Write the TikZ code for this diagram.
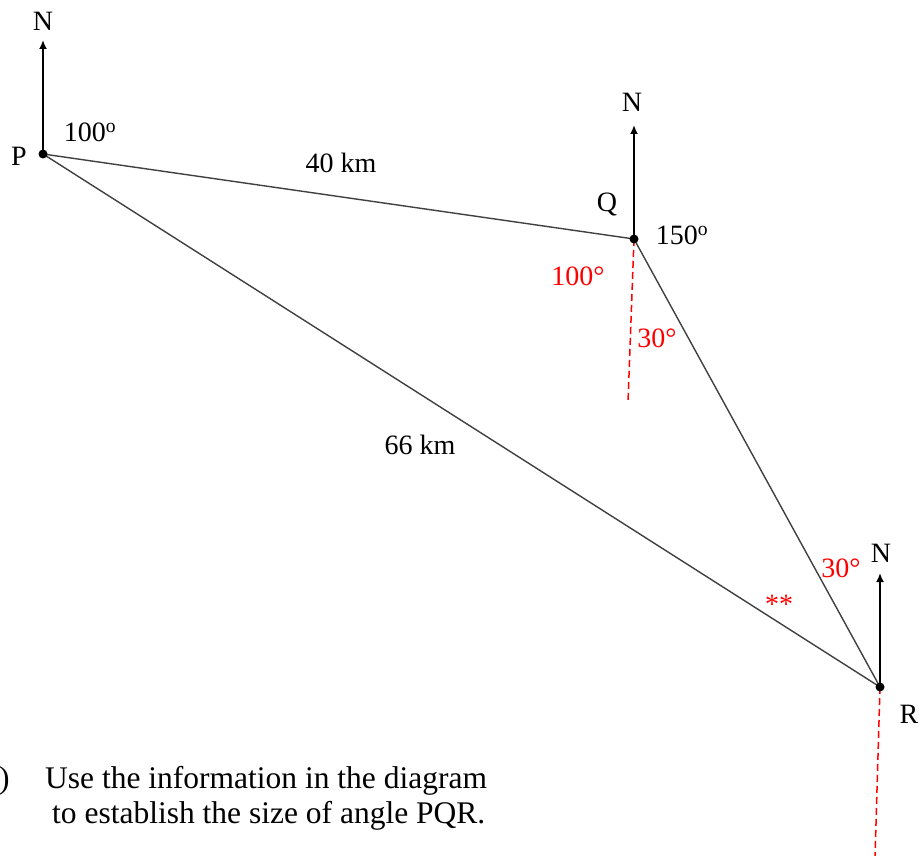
\documentclass[tikz,border=0pt]{standalone}
\usepackage{fontspec}
\setmainfont{Liberation Serif}
\usetikzlibrary{arrows.meta}
\begin{document}
\begin{tikzpicture}[x=1pt,y=-1pt,
 lbl/.style={inner sep=0pt, font=\fontsize{28}{30}\selectfont},
 rlbl/.style={lbl, text=red},
 txt/.style={anchor=base west, inner sep=0pt, font=\fontsize{31.5}{35}\selectfont},
 side/.style={draw=black!75, line width=1.4pt},
 north/.style={line width=2pt, -{Latex[length=9pt,width=8pt]}},
 dashline/.style={red, line width=1.5pt, dash pattern=on 7pt off 4pt},
 dot/.style={circle, fill=black, inner sep=0pt, minimum size=9pt}]
\useasboundingbox (0,0) rectangle (921,856);
\coordinate (P) at (43,154);
\coordinate (Q) at (634,239);
\coordinate (R) at (880,687);
\coordinate (PN) at (43,40);
\coordinate (QN) at (634,125);
\coordinate (RN) at (880,573);
\coordinate (Qd) at (628,402);
\coordinate (Rd) at (875,858);
% sides
\draw[side] (P) -- (Q);
\draw[side] (Q) -- (R);
\draw[side] (R) -- (P);
% north arrows
\draw[north] (P) -- (PN);
\draw[north] (Q) -- (QN);
\draw[north] (R) -- (RN);
% dashed south lines
\draw[dashline] (Q) -- (Qd);
\draw[dashline] (R) -- (Rd);
% dots
\node[dot] (Pdot) at (P) {};
\node[dot] (Qdot) at (Q) {};
\node[dot] (Rdot) at (R) {};
% labels
\node[lbl] (nP) at (43,21) {N};
\node[lbl] (lP) at (19,156) {P};
\node[lbl] (aP) at (90,132) {100\textsuperscript{o}};
\node[lbl] (d1) at (341,163) {40 km};
\node[lbl] (nQ) at (632,102) {N};
\node[lbl] (lQ) at (607,204) {Q};
\node[lbl] (aQ) at (682,235) {150\textsuperscript{o}};
\node[rlbl] (rQ1) at (578,276) {100°};
\node[rlbl] (rQ2) at (657,338) {30°};
\node[lbl] (d2) at (420,445) {66 km};
\node[rlbl] (rR1) at (841,568) {30°};
\node[rlbl] (rR2) at (779,604) {**};
\node[lbl] (nR) at (881,553) {N};
\node[lbl] (lR) at (909,714) {R};
% question text
\node[txt] (t0) at (-1,788) {)};
\node[txt] (t1) at (45,788) {Use the information in the diagram};
\node[txt] (t2) at (52,823) {to establish the size of angle PQR.};
\end{tikzpicture}
\end{document}
